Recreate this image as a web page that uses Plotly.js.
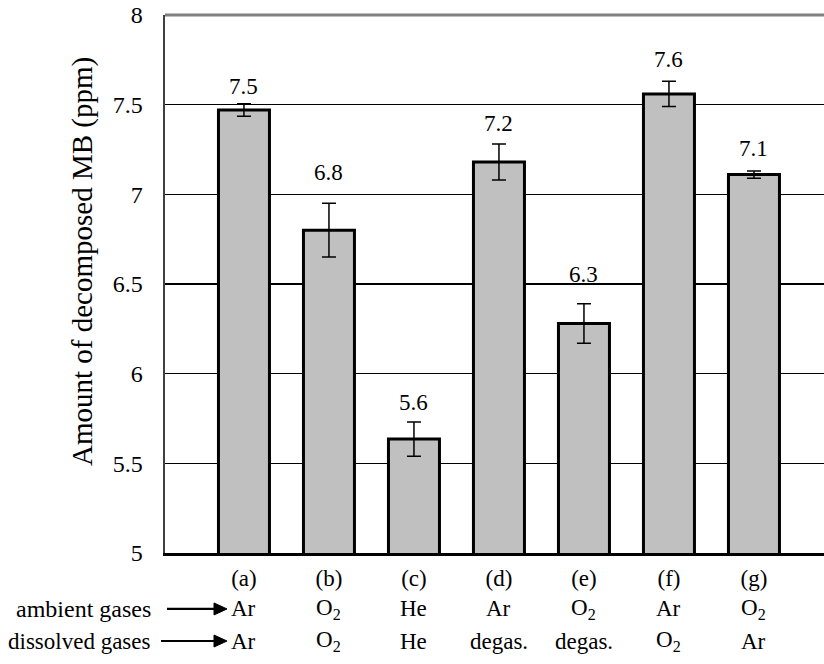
<!DOCTYPE html>
<html>
<head>
<meta charset="utf-8">
<script src="https://cdn.plot.ly/plotly-3.0.1.min.js"></script>
<style>html,body{margin:0;padding:0;background:#fff;}#chart{width:824px;height:664px;}</style>
</head>
<body>
<div id="chart"></div>
<script>
// ---- data ----
const categories = ['(a)', '(b)', '(c)', '(d)', '(e)', '(f)', '(g)'];
const ambientGases = ['Ar', 'O<sub>2</sub>', 'He', 'Ar', 'O<sub>2</sub>', 'Ar', 'O<sub>2</sub>'];
const dissolvedGases = ['Ar', 'O<sub>2</sub>', 'He', 'degas.', 'degas.', 'O<sub>2</sub>', 'Ar'];
const values = [7.47, 6.80, 5.635, 7.18, 6.28, 7.56, 7.11];
const errors = [0.035, 0.15, 0.095, 0.10, 0.11, 0.07, 0.02];
const valueLabels = ['7.5', '6.8', '5.6', '7.2', '6.3', '7.6', '7.1'];
const yTicks = [5, 5.5, 6, 6.5, 7, 7.5, 8];
const yTitle = 'Amount of decomposed MB (ppm)';
const rowNames = ['ambient gases', 'dissolved gases'];

// ---- styling ----
const FONT = 'Liberation Serif';
const LABEL_SHIFT_PX = [3, 16, 5, 6, 15, 7, 8]; // extra gap above each error bar
const xs = categories.map((_, i) => i);

const trace = {
  type: 'bar',
  x: xs,
  y: values,
  width: 0.6,
  marker: {color: '#c0c0c0', line: {color: '#000', width: 3}},
  error_y: {type: 'data', array: errors, visible: true, color: '#000', thickness: 1.5, width: 7},
  hoverinfo: 'skip'
};

const ROW1 = -0.104, ROW2 = -0.1636;
const annotations = [];
xs.forEach((x, i) => {
  annotations.push({x: x, y: values[i] + errors[i], xref: 'x', yref: 'y', text: valueLabels[i],
    showarrow: false, yanchor: 'bottom', yshift: LABEL_SHIFT_PX[i], font: {family: FONT, size: 23, color: '#000'}});
  annotations.push({x: x, y: ROW1, xref: 'x', yref: 'paper', text: ambientGases[i],
    showarrow: false, yanchor: 'middle', font: {family: FONT, size: 23, color: '#000'}});
  annotations.push({x: x, y: ROW2, xref: 'x', yref: 'paper', text: dissolvedGases[i],
    showarrow: false, yanchor: 'middle', font: {family: FONT, size: 23, color: '#000'}});
});
annotations.push({x: -0.0182, y: ROW1, xref: 'paper', yref: 'paper', text: rowNames[0],
  showarrow: false, xanchor: 'right', yanchor: 'middle', font: {family: FONT, size: 24, color: '#000'}});
annotations.push({x: -0.0182, y: ROW2, xref: 'paper', yref: 'paper', text: rowNames[1],
  showarrow: false, xanchor: 'right', yanchor: 'middle', font: {family: FONT, size: 23, color: '#000'}});
annotations.push({x: -0.1244, y: 0.541, xref: 'paper', yref: 'paper', text: yTitle, textangle: -90,
  showarrow: false, xanchor: 'center', yanchor: 'middle', font: {family: FONT, size: 29, color: '#000'}});

const PW = 659, PH = 538;
function arrowShapes(xStartPx, xTipPx, yPaper) {
  const x0 = (xStartPx - 165) / PW, x1 = (xTipPx - 165) / PW;
  const headLen = 13 / PW, headHalf = 6 / PH;
  const xb = x1 - headLen;
  return [
    {type: 'line', xref: 'paper', yref: 'paper', x0: x0, x1: xb + 1 / PW, y0: yPaper, y1: yPaper,
      line: {color: '#000', width: 2.2}},
    {type: 'path', xref: 'paper', yref: 'paper',
      path: `M ${xb} ${yPaper - headHalf} L ${x1} ${yPaper} L ${xb} ${yPaper + headHalf} Z`,
      fillcolor: '#000', line: {color: '#000', width: 1}}
  ];
}

const layout = {
  width: 824, height: 664,
  margin: {l: 165, r: 0, t: 15, b: 111, pad: 0},
  paper_bgcolor: '#fff', plot_bgcolor: '#fff',
  showlegend: false,
  font: {family: FONT, color: '#000'},
  xaxis: {
    range: [-0.929, 6.824], tickvals: xs, ticktext: categories,
    showgrid: false, zeroline: false, showline: true, linecolor: '#000', linewidth: 3,
    ticks: '', ticklabelstandoff: 2, tickfont: {family: FONT, size: 23, color: '#000'}, fixedrange: true
  },
  yaxis: {
    range: [5, 8], tickvals: yTicks, ticktext: yTicks.map(String),
    showgrid: true, gridcolor: '#000', gridwidth: 1.3, zeroline: false,
    showline: true, linecolor: '#404040', linewidth: 2.5,
    ticks: 'inside', ticklen: 8, tickwidth: 1.3, tickcolor: '#000', ticklabelstandoff: 15,
    tickfont: {family: FONT, size: 24, color: '#000'},
    fixedrange: true
  },
  shapes: [
    {type: 'line', xref: 'paper', yref: 'paper', x0: 0, x1: 1, y0: 1, y1: 1, line: {color: '#808080', width: 3}}
  ].concat(arrowShapes(167, 227, ROW1), arrowShapes(161, 227, ROW2)),
  annotations: annotations
};

Plotly.newPlot('chart', [trace], layout, {displayModeBar: false, staticPlot: true});
</script>
</body>
</html>
